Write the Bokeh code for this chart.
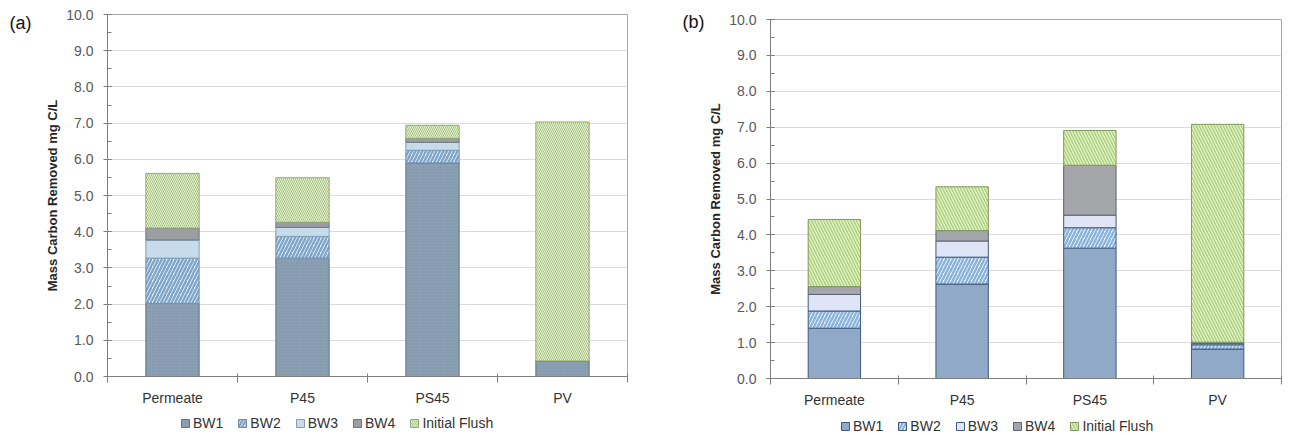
from bokeh.plotting import figure
from bokeh.layouts import row, column
from bokeh.models import (ColumnDataSource, Range1d, FixedTicker, SingleIntervalTicker,
                          NumeralTickFormatter, Legend, LegendItem, Label)
from bokeh.embed import file_html
from bokeh.resources import INLINE

categories = ["Permeate", "P45", "PS45", "PV"]
series_names = ["BW1", "BW2", "BW3", "BW4", "Initial Flush"]
y_label = "Mass Carbon Removed mg C/L"

# Panel (a)
a_bw1 = [2.02, 3.27, 5.90, 0.43]
a_bw2 = [1.25, 0.60, 0.35, 0.00]
a_bw3 = [0.50, 0.25, 0.22, 0.00]
a_bw4 = [0.33, 0.14, 0.11, 0.00]
a_flush = [1.51, 1.23, 0.36, 6.60]

# Panel (b)
b_bw1 = [1.40, 2.63, 3.63, 0.82]
b_bw2 = [0.48, 0.75, 0.57, 0.12]
b_bw3 = [0.46, 0.45, 0.35, 0.04]
b_bw4 = [0.22, 0.29, 1.39, 0.03]
b_flush = [1.87, 1.22, 0.97, 6.07]

FONT = "Liberation Sans"

style_a = dict(
    fill_color=["#8ba0b3", "#e8f0f7", "#c7dbeb", "#9d9fa3", "#eaf3d8"],
    line_color=["#5c7388", "#6f8fae", "#7f9fb8", "#6d7781", "#94a875"],
    hatch_pattern=[".", "/", " ", ".", "\\"],
    hatch_color=["#6d8497", "#7fa5c9", "#c7dbeb", "#85888c", "#a3c27c"],
    hatch_scale=[3, 7, 12, 3, 4],
    hatch_weight=[1, 2.4, 1, 1, 1],
    hatch_alpha=[0.45, 1.0, 0.0, 0.45, 1.0],
)
style_b = dict(
    fill_color=["#8fa9c7", "#f4f8fc", "#dfe4f6", "#a5a6aa", "#e2f0c6"],
    line_color=["#3f5a7e", "#3f5a7e", "#3f5a7e", "#5c6470", "#7f9a5c"],
    hatch_pattern=[" ", "/", " ", " ", "\\"],
    hatch_color=["#8fa9c7", "#8ab3db", "#dfe4f6", "#a5a6aa", "#a8cf7a"],
    hatch_scale=[12, 7, 12, 12, 6],
    hatch_weight=[1, 2.4, 1, 1, 1.3],
    hatch_alpha=[0.0, 1.0, 0.0, 0.0, 1.0],
)


def style_for(style, i):
    return {k: v[i] for k, v in style.items()}


def blank_fig(w, h):
    f = figure(width=w, height=h, x_range=Range1d(0, 1), y_range=Range1d(0, 1),
               output_backend="svg", toolbar_location=None,
               x_axis_location=None, y_axis_location=None,
               min_border=0, min_border_left=0, min_border_right=0,
               min_border_top=0, min_border_bottom=0)
    f.grid.grid_line_color = None
    f.outline_line_color = None
    return f


def make_panel(tag, values, style, strip_w, tag_x, tag_y, w, h, bl, br, bt, bb,
               legend_h, legend_x, legend_y):
    data = dict(x=[i + 0.5 for i in range(len(categories))])
    for name, vals in zip(series_names, values):
        data[name] = vals
    src = ColumnDataSource(data)

    p = figure(width=w, height=h, x_range=Range1d(0, len(categories)),
               y_range=Range1d(0, 10), output_backend="svg", toolbar_location=None,
               min_border_left=bl, min_border_right=br, min_border_top=bt,
               min_border_bottom=bb)
    p.outline_line_color = "#a6a6a6"
    p.outline_line_width = 1

    p.vbar_stack(series_names, x="x", width=0.41, source=src, line_width=1, **style)

    # x axis: category labels at centres, ticks at boundaries
    xa = p.xaxis[0]
    xa.ticker = FixedTicker(ticks=[i + 0.5 for i in range(len(categories))],
                            minor_ticks=list(range(len(categories) + 1)))
    xa.major_label_overrides = {i + 0.5: c for i, c in enumerate(categories)}
    xa.major_tick_line_color = None
    xa.major_tick_out = 0
    xa.major_tick_in = 0
    xa.minor_tick_out = 6
    xa.minor_tick_in = 3
    xa.minor_tick_line_color = "#7f7f7f"
    xa.axis_line_color = "#7f7f7f"
    xa.major_label_standoff = 7
    xa.major_label_text_font = FONT
    xa.major_label_text_font_size = "14px"
    xa.major_label_text_color = "#333333"

    ya = p.yaxis[0]
    ya.ticker = SingleIntervalTicker(interval=1, num_minor_ticks=2)
    ya.formatter = NumeralTickFormatter(format="0.0")
    ya.axis_line_color = "#7f7f7f"
    ya.major_tick_line_color = "#7f7f7f"
    ya.minor_tick_line_color = "#7f7f7f"
    ya.major_tick_out = 4
    ya.major_tick_in = 4
    ya.minor_tick_out = 0
    ya.minor_tick_in = 4
    ya.major_label_standoff = 10
    ya.major_label_text_font = FONT
    ya.major_label_text_font_size = "14px"
    ya.major_label_text_color = "#595959"
    ya.axis_label = y_label
    ya.axis_label_text_font = FONT
    ya.axis_label_text_font_size = "13px"
    ya.axis_label_text_font_style = "bold"
    ya.axis_label_text_color = "#262626"
    ya.axis_label_standoff = 3

    p.xgrid.grid_line_color = None
    p.ygrid.grid_line_color = "#dcdcdc"
    p.ygrid.grid_line_width = 1

    # strip on the left with the panel tag
    total_h = h + legend_h
    strip = blank_fig(strip_w, total_h)
    strip.x_range = Range1d(0, strip_w)
    strip.y_range = Range1d(0, total_h)
    strip.add_layout(Label(x=tag_x, y=total_h - tag_y, text=tag, text_font=FONT,
                           text_font_size="18px", text_color="#111111",
                           text_baseline="middle", text_align="left"))

    # legend row below the chart; swatches styled like the bar layers
    # (one hidden sample each, placed outside the legend figure's visible range)
    lf = blank_fig(w, legend_h)
    items = []
    for i, n in enumerate(series_names):
        r = lf.vbar(x=[-5], top=[-5], bottom=[-6], width=0.1, line_width=1,
                    **style_for(style, i))
        items.append(LegendItem(label=n, renderers=[r], index=0))
    legend = Legend(items=items, orientation="horizontal", location=(legend_x, legend_y),
                    border_line_color=None, background_fill_alpha=0,
                    label_text_font=FONT, label_text_font_size="14px",
                    label_text_color="#333333", glyph_width=10, glyph_height=10,
                    label_standoff=3, spacing=14, padding=0, margin=0,
                    label_height=14)
    lf.add_layout(legend, "center")

    return row(strip, column(p, lf, spacing=0), spacing=0)


pa = make_panel("(a)", [a_bw1, a_bw2, a_bw3, a_bw4, a_flush], style_a,
                40, 9, 22, 600, 408, 67, 13, 14, 32, 26, 73, 3)
pb = make_panel("(b)", [b_bw1, b_bw2, b_bw3, b_bw4, b_flush], style_b,
                65, 42, 21.5, 585, 410, 60, 9, 19, 30, 24, 70, 0)

layout = row(pa, pb, spacing=0)
open("out.html", "w").write(file_html(layout, INLINE))
